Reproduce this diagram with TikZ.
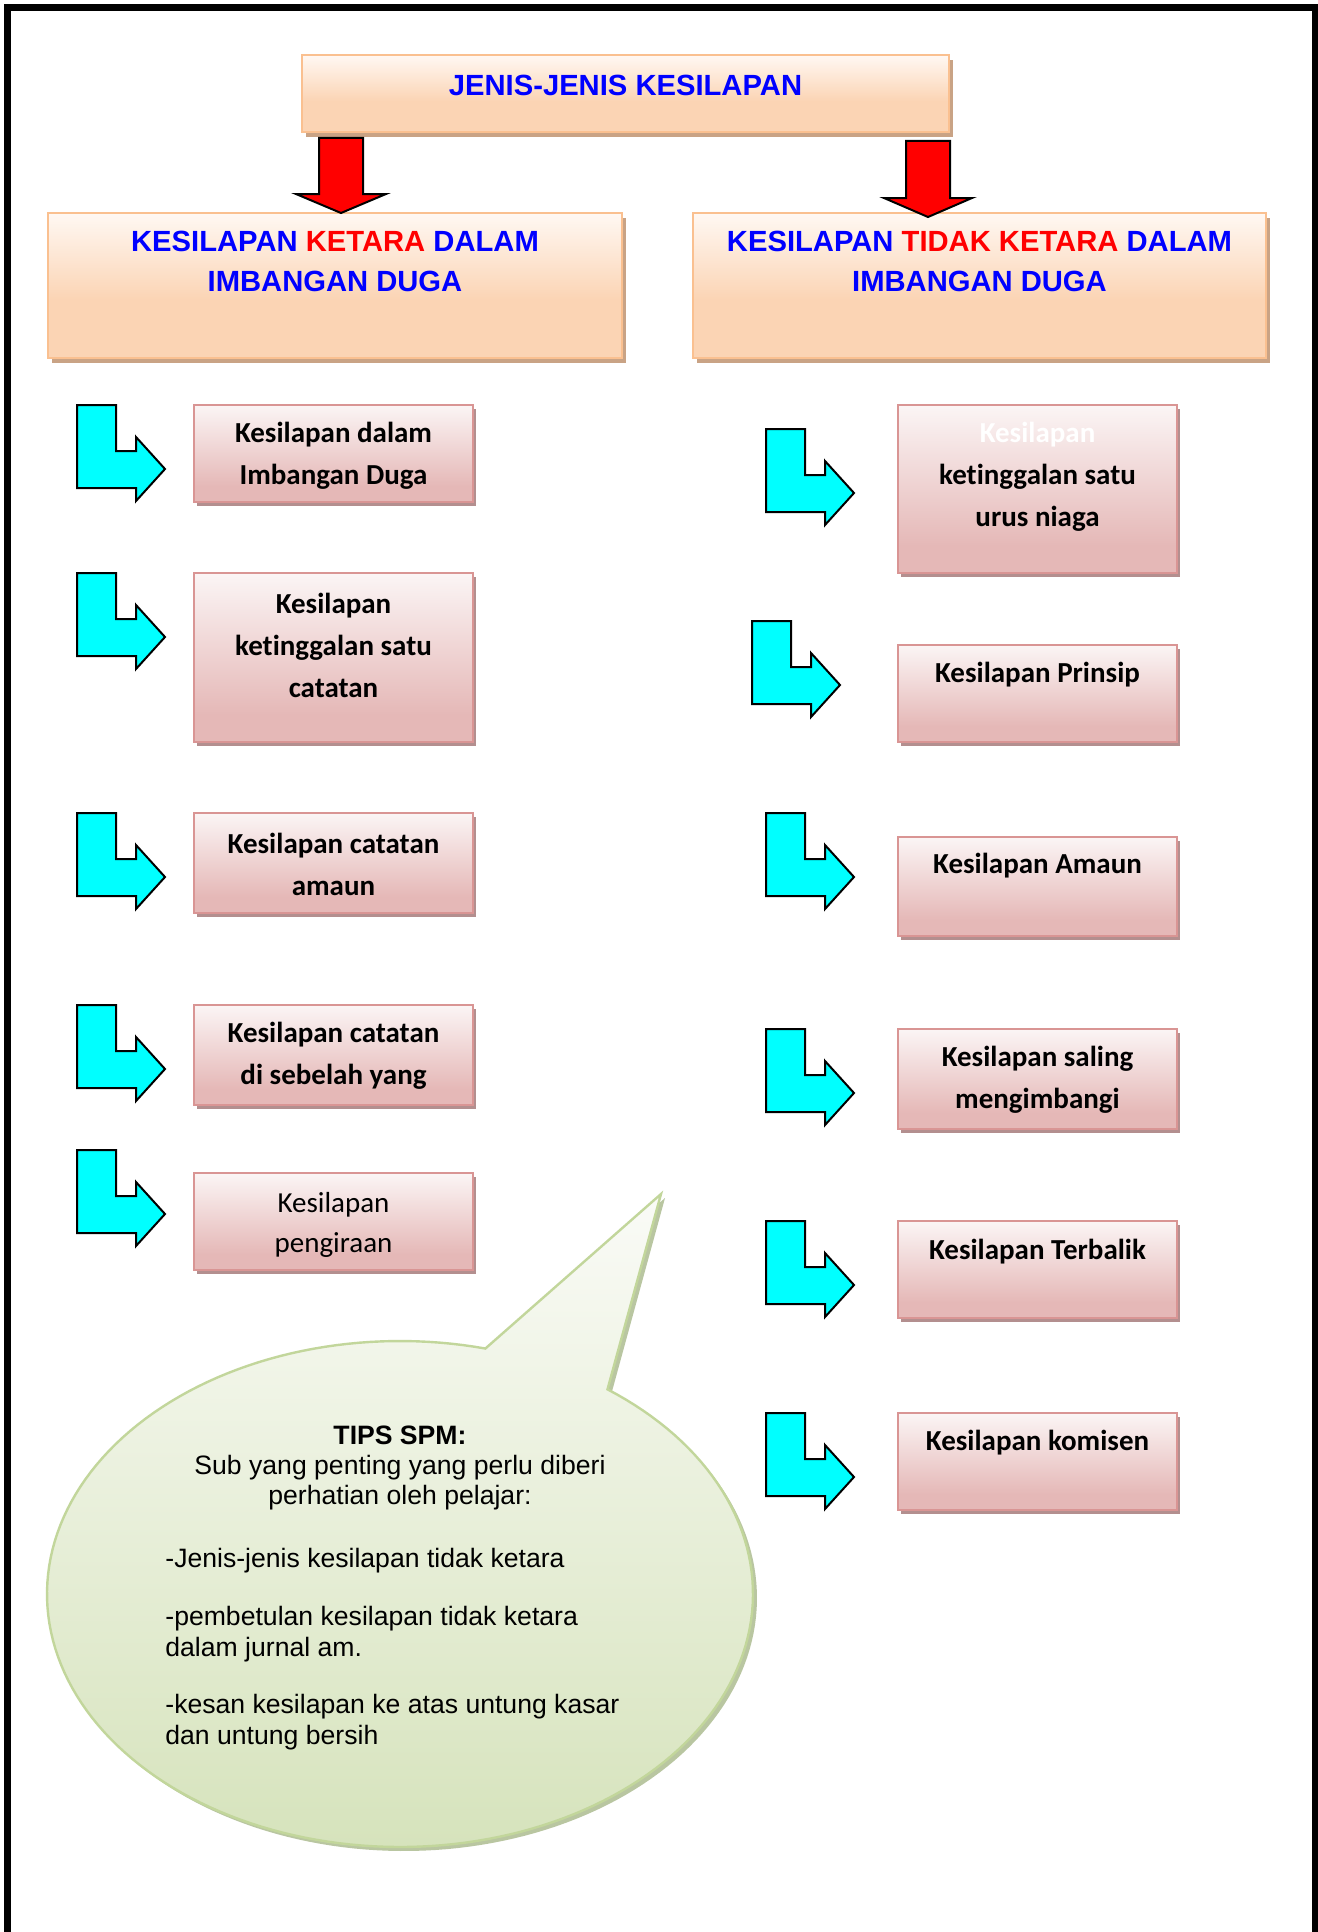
\documentclass[tikz,border=0pt]{standalone}
\usepackage{fontspec}
\usetikzlibrary{shadows}
\newfontfamily\arialf{Liberation Sans}
\newfontfamily\calf[Ligatures={NoCommon}]{Carlito}
\definecolor{hblue}{HTML}{0000FF}
\definecolor{hred}{HTML}{FF0000}
\definecolor{peachB}{HTML}{FBD4B4}
\definecolor{peachT}{HTML}{FFF8F3}
\definecolor{peachD}{HTML}{FAC090}
\definecolor{peachS}{HTML}{C9A385}
\definecolor{pinkB}{HTML}{E5B8B7}
\definecolor{pinkT}{HTML}{FBF5F5}
\definecolor{pinkD}{HTML}{D99594}
\definecolor{pinkS}{HTML}{B38F8F}
\definecolor{greenB}{HTML}{D6E3BC}
\definecolor{greenT}{HTML}{FAFBF7}
\definecolor{greenD}{HTML}{C2D69B}
\definecolor{greenS}{HTML}{A8B88A}
\definecolor{cyanA}{HTML}{00FFFF}
\pgfdeclareverticalshading{peachsh}{100bp}{color(0bp)=(peachB); color(25bp)=(peachB); color(45bp)=(peachB); color(75bp)=(peachT); color(100bp)=(peachT)}
\pgfdeclareverticalshading{pinksh}{100bp}{color(0bp)=(pinkB); color(25bp)=(pinkB); color(33bp)=(pinkB); color(75bp)=(pinkT); color(100bp)=(pinkT)}
\begin{document}
\begin{tikzpicture}[x=0.5pt,y=-0.5pt,
  bigbox/.style={draw=peachD, line width=1pt, shade, shading=peachsh, inner sep=0pt,
    drop shadow={shadow xshift=2pt,shadow yshift=-2.5pt,fill=peachS,opacity=1}},
  smallbox/.style={draw=pinkD, line width=1pt, shade, shading=pinksh, inner sep=0pt, minimum width=139.5pt,
    drop shadow={shadow xshift=1.5pt,shadow yshift=-2pt,fill=pinkS,opacity=1}},
  hdr/.style={font=\arialf\bfseries\fontsize{14.6}{20}\selectfont, text=hblue, align=center, inner sep=0pt},
  itemtext/.style={font=\calf\bfseries\fontsize{14.5}{21}\selectfont, align=center, inner sep=0pt},
  itemplain/.style={font=\calf\fontsize{14.5}{20}\selectfont, align=center, inner sep=0pt},
  tipsc/.style={font=\arialf\fontsize{13.3}{15.2}\selectfont, align=center, inner sep=0pt},
  tipsl/.style={font=\arialf\fontsize{13.3}{15.5}\selectfont, align=left, inner sep=0pt, anchor=west},
  redarrow/.style={fill=hred, draw=black, line width=1pt, line join=miter},
  bentarrow/.pic={\draw[fill=cyanA, draw=black, line width=1pt, line join=miter]
    (0,0) -- (39,0) -- (39,46) -- (59,46) -- (59,32) -- (88,64) -- (59,96) -- (59,83) -- (0,83) -- cycle;}
]
\useasboundingbox (0,0) rectangle (1317,1932);
\fill[white] (0,0) rectangle (1317,1932);
% frame
\draw[line width=3.5pt] (7,1945) -- (7,8) -- (1315.5,8) -- (1315.5,1945);

% title and category boxes
\node[bigbox, minimum width=323.5pt, minimum height=38.5pt] (title) at (625.5,93.5) {};
\node[hdr] (titletext) at (625.5,85) {JENIS-JENIS KESILAPAN};
\node[bigbox, minimum width=287pt, minimum height=72.5pt] (bigL) at (335,285.5) {};
\node[hdr] (bigLtext) at (335,261) {KESILAPAN \textcolor{hred}{KETARA} DALAM\\IMBANGAN DUGA};
\node[bigbox, minimum width=286.5pt, minimum height=72.5pt] (bigR) at (979.5,285.5) {};
\node[hdr] (bigRtext) at (979.5,261) {KESILAPAN \textcolor{hred}{TIDAK KETARA} DALAM\\IMBANGAN DUGA};

% red block arrows
\draw[redarrow] (319,138) -- (363,138) -- (363,194) -- (386,194) -- (341,213) -- (296,194) -- (319,194) -- cycle;
\draw[redarrow] (906,141) -- (950,141) -- (950,198) -- (972,198) -- (928,217) -- (884,198) -- (906,198) -- cycle;

% left column
\node[smallbox, minimum height=48.5pt] (L1) at (333.5,453.5) {};
\node[itemtext] (L1t) at (333.5,456) {Kesilapan dalam\\Imbangan Duga};
\node[smallbox, minimum height=84.5pt] (L2) at (333.5,657.5) {};
\node[itemtext] (L2t) at (333.5,645) {Kesilapan\\ketinggalan satu\\catatan};
\node[smallbox, minimum height=50pt] (L3) at (333.5,863) {};
\node[itemtext] (L3t) at (333.5,864) {Kesilapan catatan\\amaun};
\node[smallbox, minimum height=50pt] (L4) at (333.5,1055) {};
\node[itemtext] (L4t) at (333.5,1056) {Kesilapan catatan\\di sebelah yang};
\node[smallbox, minimum height=48.5pt] (L5) at (333.5,1221.5) {};
\node[itemplain] (L5t) at (333.5,1225) {Kesilapan\\pengiraan};

\pic (LA1) at (77,405) {bentarrow};
\pic (LA2) at (77,573) {bentarrow};
\pic (LA3) at (77,813) {bentarrow};
\pic (LA4) at (77,1005) {bentarrow};
\pic (LA5) at (77,1150) {bentarrow};

% right column
\node[smallbox, minimum height=84pt] (R1) at (1037.5,489) {};
\node[itemtext] (R1t) at (1037.5,477) {\textcolor{white}{Kesilapan}\\ketinggalan satu\\urus niaga};
\node[smallbox, minimum height=48.5pt] (R2) at (1037.5,693.5) {};
\node[itemtext] (R2t) at (1037.5,675) {Kesilapan Prinsip};
\node[smallbox, minimum height=49.5pt] (R3) at (1037.5,886.5) {};
\node[itemtext] (R3t) at (1037.5,866) {Kesilapan Amaun};
\node[smallbox, minimum height=50pt] (R4) at (1037.5,1079) {};
\node[itemtext] (R4t) at (1037.5,1080) {Kesilapan saling\\mengimbangi};
\node[smallbox, minimum height=48.5pt] (R5) at (1037.5,1269.5) {};
\node[itemtext] (R5t) at (1037.5,1252) {Kesilapan Terbalik};
\node[smallbox, minimum height=48.5pt] (R6) at (1037.5,1461.5) {};
\node[itemtext] (R6t) at (1037.5,1443) {Kesilapan komisen};

\pic (RA1) at (766,429) {bentarrow};
\pic (RA2) at (752,621) {bentarrow};
\pic (RA3) at (766,813) {bentarrow};
\pic (RA4) at (766,1029) {bentarrow};
\pic (RA5) at (766,1221) {bentarrow};
\pic (RA6) at (766,1413) {bentarrow};

% speech bubble
\begin{scope}[shift={(4,4)}]
\fill[greenS, opacity=0.8] (661,1194) -- plot[domain=76:414, samples=181] ({400+353*cos(\x)},{1594-253*sin(\x)}) -- cycle;
\end{scope}
\draw[draw=greenD, line width=1.2pt, top color=greenT, bottom color=greenB]
  (661,1194) -- plot[domain=76:414, samples=181] ({400+353*cos(\x)},{1594-253*sin(\x)}) -- cycle;

\node[tipsc] (tipshead) at (400,1468) {\bfseries TIPS SPM:\\Sub yang penting yang perlu diberi\\perhatian oleh pelajar:};
\node[tipsl] (tip1) at (165,1561) {-Jenis-jenis kesilapan tidak ketara};
\node[tipsl] (tip2) at (165,1634) {-pembetulan kesilapan tidak ketara\\dalam jurnal am.};
\node[tipsl] (tip3) at (165,1722.5) {-kesan kesilapan ke atas untung kasar\\dan untung bersih};
\end{tikzpicture}
\end{document}
